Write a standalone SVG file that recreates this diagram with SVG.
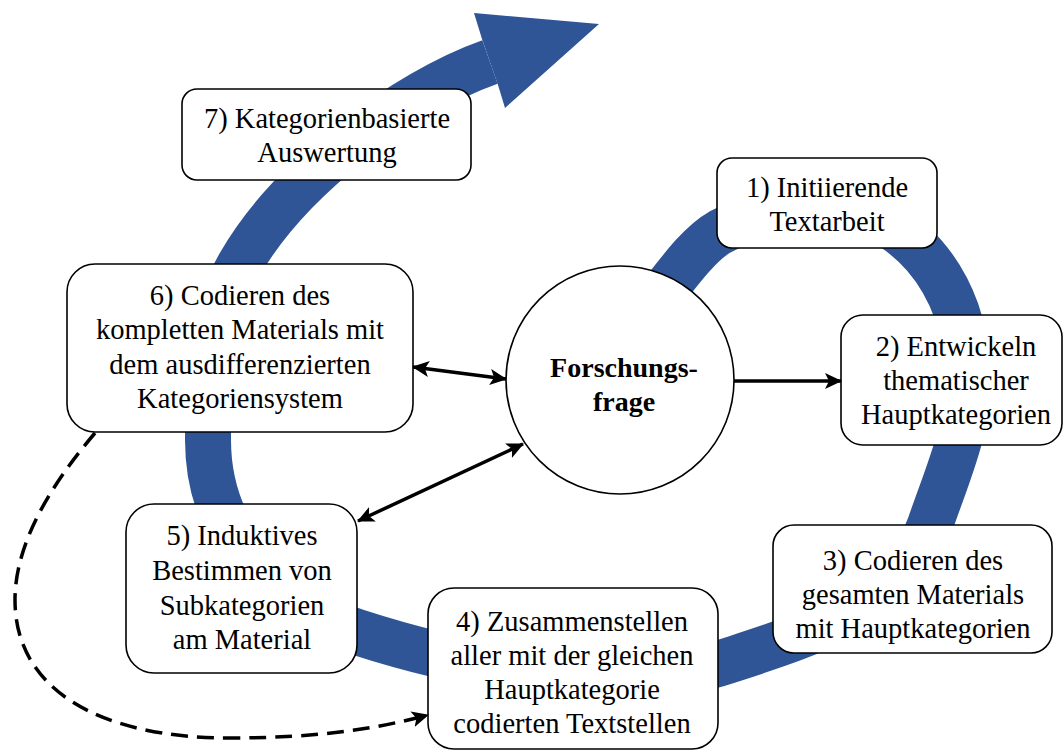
<svg xmlns="http://www.w3.org/2000/svg" width="1063" height="751" viewBox="0 0 1063 751">
  <defs>
    <style>
      .box { fill: #ffffff; stroke: #000000; stroke-width: 1.6; }
      .lbl { font-family: "Liberation Serif", "Times New Roman", serif; font-size: 28.5px; fill: #000000; text-anchor: middle; }
      .bold { font-weight: bold; font-size: 28px; }
      .band { fill: none; stroke: #2F5597; stroke-width: 46; stroke-linecap: butt; }
      .conn { fill: none; stroke: #000000; stroke-width: 3.5; }
      .dash { stroke-dasharray: 17 9; }
    </style>
    <marker id="head" markerUnits="userSpaceOnUse" markerWidth="18" markerHeight="16" refX="16" refY="8" orient="auto-start-reverse" viewBox="0 0 18 16">
      <path d="M0,0 L17,8 L0,16 L4,8 Z" fill="#000000"/>
    </marker>
  </defs>

  <!-- spiral process band with arrowhead -->
  <g id="spiral">
    <path class="band" d="M640,320 C665,293 693,247 720,232 C749,217 782,205 815,205 C903,205 968,282 968,380 C968,430 946,478 930,525 C900,610 803,636 718,664 C680,675 620,673 580,673 C505,673 428,655 357,632 C281,607 208,540 208,440 C208,380 212,312 240,264 C290,177 405,92 490,62"/>
    <polygon points="482,39 474,13 599,24 505,108 498,85" fill="#2F5597"/>
  </g>

  <!-- central research question -->
  <g id="forschungsfrage">
    <circle cx="620" cy="380" r="114" class="box"/>
    <text class="lbl bold" x="624" y="377">Forschungs-</text>
    <text class="lbl bold" x="624" y="411">frage</text>
  </g>

  <g id="step1">
    <rect class="box" x="717" y="158" width="220" height="90" rx="15"/>
    <text class="lbl" x="827" y="197">1) Initiierende</text>
    <text class="lbl" x="827" y="231">Textarbeit</text>
  </g>

  <g id="step2">
    <rect class="box" x="841" y="315" width="221" height="130" rx="22"/>
    <text class="lbl" x="956" y="356">2) Entwickeln</text>
    <text class="lbl" x="956" y="390">thematischer</text>
    <text class="lbl" x="956" y="424">Hauptkategorien</text>
  </g>

  <g id="step3">
    <rect class="box" x="773" y="525" width="279" height="128" rx="21"/>
    <text class="lbl" x="913" y="570">3) Codieren des</text>
    <text class="lbl" x="913" y="604">gesamten Materials</text>
    <text class="lbl" x="913" y="638">mit Hauptkategorien</text>
  </g>

  <g id="step4">
    <rect class="box" x="428" y="588" width="290" height="161" rx="26"/>
    <text class="lbl" x="572" y="631">4) Zusammenstellen</text>
    <text class="lbl" x="572" y="665">aller mit der gleichen</text>
    <text class="lbl" x="572" y="699">Hauptkategorie</text>
    <text class="lbl" x="572" y="733">codierten Textstellen</text>
  </g>

  <g id="step5">
    <rect class="box" x="126" y="504" width="231" height="169" rx="28"/>
    <text class="lbl" x="242" y="545">5) Induktives</text>
    <text class="lbl" x="242" y="580">Bestimmen von</text>
    <text class="lbl" x="242" y="615">Subkategorien</text>
    <text class="lbl" x="242" y="649">am Material</text>
  </g>

  <g id="step6">
    <rect class="box" x="67" y="264" width="346" height="168" rx="28"/>
    <text class="lbl" x="240" y="305">6) Codieren des</text>
    <text class="lbl" x="240" y="339">kompletten Materials mit</text>
    <text class="lbl" x="240" y="374">dem ausdifferenzierten</text>
    <text class="lbl" x="240" y="408">Kategoriensystem</text>
  </g>

  <g id="step7">
    <rect class="box" x="182" y="89" width="289" height="91" rx="15"/>
    <text class="lbl" x="327" y="128">7) Kategorienbasierte</text>
    <text class="lbl" x="327" y="162">Auswertung</text>
  </g>

  <!-- connectors -->
  <g id="connectors">
    <line class="conn" x1="734" y1="381" x2="841" y2="381" marker-end="url(#head)"/>
    <line class="conn" x1="413" y1="367" x2="506" y2="379" marker-start="url(#head)" marker-end="url(#head)"/>
    <line class="conn" x1="523" y1="444" x2="358" y2="521" marker-start="url(#head)" marker-end="url(#head)"/>
    <path class="conn dash" d="M95,433 C55,480 15,540 15,600 C15,690 100,738 230,738 C320,738 380,728 428,715" marker-end="url(#head)"/>
  </g>
</svg>
